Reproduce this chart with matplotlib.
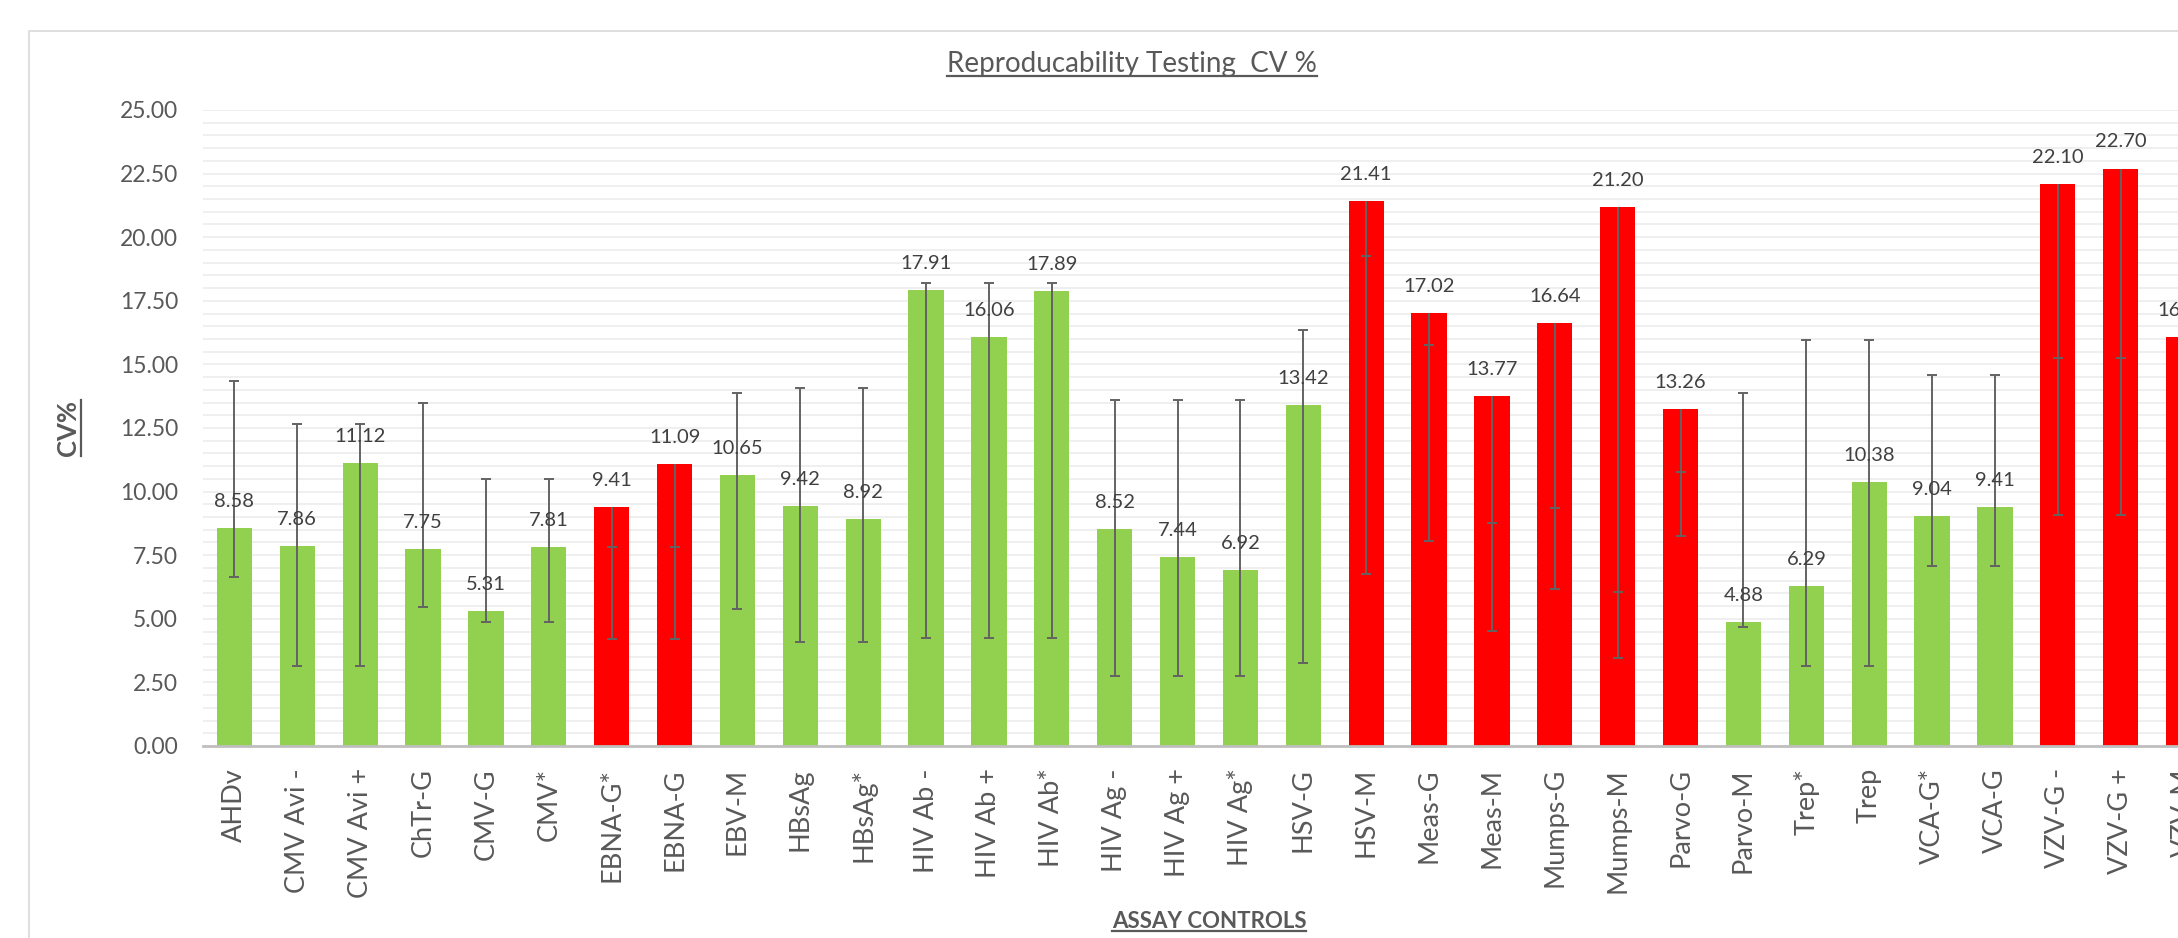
import matplotlib
matplotlib.use("Agg")
import matplotlib.pyplot as plt
from matplotlib.lines import Line2D
from matplotlib.patches import Rectangle
import numpy as np

plt.rcParams['font.family'] = ['Lato', 'DejaVu Sans']

# Assay controls and their CV% (last one runs off the right edge in the source)
controls = ['AHDv', 'CMV Avi -', 'CMV Avi +', 'ChTr-G', 'CMV-G', 'CMV*', 'EBNA-G*',
            'EBNA-G', 'EBV-M', 'HBsAg', 'HBsAg*', 'HIV Ab -', 'HIV Ab +', 'HIV Ab*',
            'HIV Ag -', 'HIV Ag +', 'HIV Ag*', 'HSV-G', 'HSV-M', 'Meas-G', 'Meas-M',
            'Mumps-G', 'Mumps-M', 'Parvo-G', 'Parvo-M', 'Trep*', 'Trep', 'VCA-G*',
            'VCA-G', 'VZV-G -', 'VZV-G +', 'VZV-M']
cv = [8.58, 7.86, 11.12, 7.75, 5.31, 7.81, 9.41, 11.09, 10.65, 9.42, 8.92,
      17.91, 16.06, 17.89, 8.52, 7.44, 6.92, 13.42, 21.41, 17.02, 13.77,
      16.64, 21.20, 13.26, 4.88, 6.29, 10.38, 9.04, 9.41, 22.10, 22.70, 16.07]
failed = [0, 0, 0, 0, 0, 0, 1, 1, 0, 0, 0, 0, 0, 0, 0, 0, 0, 0, 1, 1, 1,
          1, 1, 1, 0, 0, 0, 0, 0, 1, 1, 1]

# error bar ranges (low end, high end, extra middle cap on the red ones)
err_lo = [6.66, 3.16, 3.16, 5.47, 4.86, 4.86, 4.19, 4.19, 5.38, 4.09, 4.09,
          4.26, 4.26, 4.26, 2.76, 2.76, 2.76, 3.26, 6.76, 8.06, 4.54,
          6.16, 3.45, 8.26, 4.66, 3.16, 3.16, 7.07, 7.07, 9.07, 9.07, None]
err_hi = [14.35, 12.67, 12.67, 13.48, 10.48, 10.48, 9.41, 11.09, 13.88, 14.06, 14.06,
          18.19, 18.19, 18.19, 13.61, 13.61, 13.61, 16.35, 21.41, 17.02, 13.77,
          16.64, 21.20, 13.26, 13.88, 15.97, 15.97, 14.57, 14.57, 22.10, 22.70, None]
err_mid = [None, None, None, None, None, None, 7.84, 7.84, None, None, None,
           None, None, None, None, None, None, None, 19.26, 15.78, 8.77,
           9.35, 6.06, 10.78, None, None, None, None, None, 15.26, 15.26, None]

W, H = 2178, 938
GREEN = '#92D050'
RED = '#FF0000'
TXT = '#595959'

fig = plt.figure(figsize=(W / 100, H / 100), dpi=100)
fig.patch.set_facecolor('white')

# outer chart frame
fig.patches.append(Rectangle((29 / W, -0.1), 1.2, 1 - 31 / H + 0.1, transform=fig.transFigure,
                             fill=False, edgecolor='#D9D9D9', linewidth=1.2))

# plot area runs past the right edge of the picture
left, right, top, bottom = 203, 2215, 110, 746
ax = fig.add_axes([left / W, 1 - bottom / H, (right - left) / W, (bottom - top) / H])

x = np.arange(len(controls))
colors = [RED if f else GREEN for f in failed]
ax.bar(x, cv, width=0.56, color=colors, zorder=2)

for i in range(len(controls)):
    if err_lo[i] is None:
        continue
    ax.vlines(i, err_lo[i], err_hi[i], color='#636363', linewidth=1.4, zorder=4)
    caps = [err_lo[i]]
    if err_mid[i] is None:
        caps.append(err_hi[i])
    else:
        caps.append(err_mid[i])
    ax.plot([i] * len(caps), caps, linestyle='none', marker='_', markersize=7,
            markeredgewidth=1.4, color='#636363', zorder=4)

for i, v in enumerate(cv):
    ax.annotate(f"{v:.2f}", (i, v), xytext=(0, 13), textcoords='offset points',
                ha='center', va='bottom', fontsize=14.5, color='#404040', zorder=5)

ax.set_xlim(-0.5, len(controls) - 0.5)
ax.set_ylim(0, 25)
ax.set_yticks(np.arange(0, 25.01, 2.5))
ax.set_yticklabels([f"{t:.2f}" for t in np.arange(0, 25.01, 2.5)])
ax.set_yticks(np.arange(0, 25.01, 0.5), minor=True)
ax.grid(axis='y', which='both', color='#EEEEEE', linewidth=1.3, zorder=0)
ax.set_axisbelow(True)
ax.set_xticks(x)
ax.set_xticklabels(controls, rotation=90)
ax.tick_params(axis='y', which='both', length=0, pad=18, labelsize=16.5, labelcolor=TXT)
ax.tick_params(axis='x', length=0, pad=16, labelsize=19.5, labelcolor=TXT)
for side in ['top', 'right', 'left']:
    ax.spines[side].set_visible(False)
ax.spines['bottom'].set_color('#BFBFBF')
ax.spines['bottom'].set_linewidth(2)

title = fig.text(1132 / W, 1 - 64 / H, 'Reproducability Testing  CV %', ha='center',
                 va='center', fontsize=20, color=TXT)
ylab = fig.text(68 / W, 1 - 428 / H, 'CV%', rotation=90, ha='center', va='center',
                fontsize=18.5, fontweight='bold', color=TXT)
xlab = fig.text(1209 / W, 1 - 921 / H, 'ASSAY CONTROLS', ha='center', va='center',
                fontsize=16, fontweight='bold', color=TXT)

# underline the three captions
fig.canvas.draw()
r = fig.canvas.get_renderer()
for t, vertical in [(title, False), (xlab, False), (ylab, True)]:
    bb = t.get_window_extent(r)
    if vertical:
        xx = bb.x1 + 1
        fig.lines.append(Line2D([xx / W, xx / W], [bb.y0 / H, bb.y1 / H],
                                transform=fig.transFigure, color=TXT, linewidth=1.6))
    else:
        yy = bb.y0 + 1
        fig.lines.append(Line2D([bb.x0 / W, bb.x1 / W], [yy / H, yy / H],
                                transform=fig.transFigure, color=TXT, linewidth=1.6))

fig.savefig('out.png', dpi=100, facecolor='white')
